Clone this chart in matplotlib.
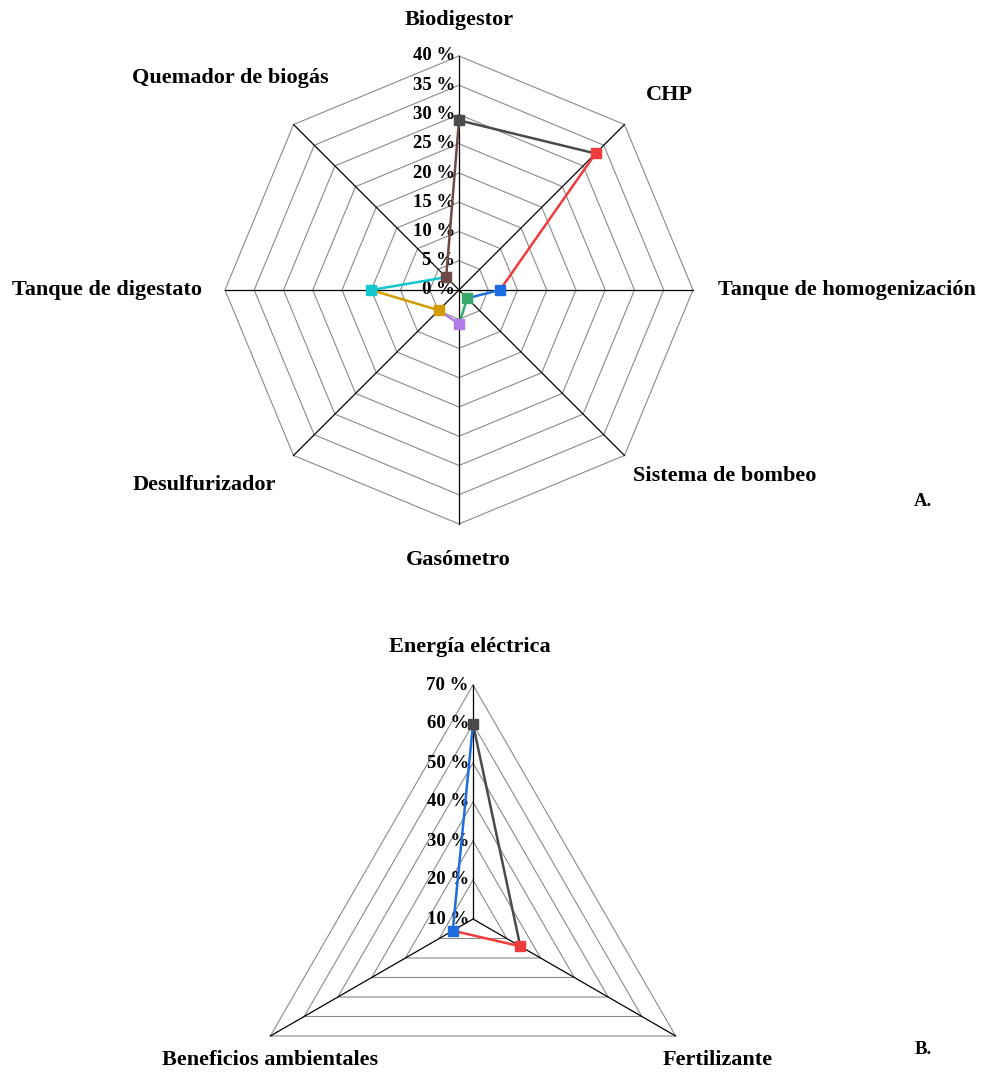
import matplotlib
matplotlib.use("Agg")
import matplotlib.pyplot as plt
import numpy as np

plt.rcParams["font.family"] = ["Liberation Serif", "DejaVu Serif"]
plt.rcParams["font.weight"] = "bold"

# --- data ---
equipos = ["Biodigestor", "CHP", "Tanque de homogenización", "Sistema de bombeo",
           "Gasómetro", "Desulfurizador", "Tanque de digestato", "Quemador de biogás"]
equipos_pct = [29, 33, 7, 2, 5.8, 4.9, 15, 3.1]
equipos_colors = ["#4a4a4a", "#f03c3c", "#1c6ee0", "#39a96b",
                  "#b27be6", "#d39b00", "#12c6cf", "#6f4848"]
equipos_ticks = [0, 5, 10, 15, 20, 25, 30, 35, 40]

productos = ["Energía eléctrica", "Fertilizante", "Beneficios ambientales"]
productos_pct = [60, 24, 16]
productos_colors = ["#4a4a4a", "#f03c3c", "#1c6ee0"]
productos_ticks = [10, 20, 30, 40, 50, 60, 70]  # axis starts at 10 % in the centre

W, H = 984, 1072
fig = plt.figure(figsize=(W / 100, H / 100), dpi=100)


def make_polar(cx, cy, rad):
    # pixel centre / radius -> figure fraction box
    ax = fig.add_axes([(cx - rad) / W, (H - cy - rad) / H, 2 * rad / W, 2 * rad / H],
                      projection="polar")
    ax.set_theta_zero_location("N")
    ax.set_theta_direction(-1)
    ax.grid(False)
    ax.set_xticks([])
    ax.set_yticks([])
    ax.spines["polar"].set_visible(False)
    ax.patch.set_visible(False)
    return ax


def radar(ax, values, colors, ticks):
    n = len(values)
    theta = np.linspace(0, 2 * np.pi, n, endpoint=False)
    ax.set_ylim(ticks[0], ticks[-1])
    tt = np.append(theta, theta[0])
    # polygon grid
    for t in ticks[1:]:
        ax.plot(tt, [t] * (n + 1), color="#8a8a8a", lw=0.8, zorder=1, clip_on=False)
    # spokes
    for th in theta:
        ax.plot([th, th], [ticks[0], ticks[-1]], color="black", lw=0.9, zorder=2,
                clip_on=False)
    # tick labels
    for t in ticks:
        ax.annotate("%d %%" % t, (0, t), xytext=(-3, 0), textcoords="offset points",
                    ha="right", va="center", fontsize=13.5, fontweight="bold", zorder=3)
    # segments coloured by start point
    for i in range(n):
        j = (i + 1) % n
        ax.plot([theta[i], theta[j]], [values[i], values[j]], color=colors[i],
                lw=1.8, zorder=4, clip_on=False)
    for i in range(n):
        ax.plot(theta[i], values[i], marker="s", ms=7, color=colors[i],
                zorder=5, clip_on=False)


ax1 = make_polar(459, 290, 234)
radar(ax1, equipos_pct, equipos_colors, equipos_ticks)

ax2 = make_polar(473, 919, 234)
radar(ax2, productos_pct, productos_colors, productos_ticks)

# category labels (pixel positions as in the reference layout)
lab1 = [(459, 20, "center"), (669, 95, "center"), (718, 290, "left"), (633, 476, "left"),
        (458, 560, "center"), (133, 485, "left"), (202, 290, "right"), (132, 78, "left")]
for (x, y, ha), name in zip(lab1, equipos):
    fig.text(x / W, 1 - y / H, name, ha=ha, va="center", fontsize=16, fontweight="bold")

lab2 = [(470, 647, "center"), (718, 1060, "center"), (270, 1060, "center")]
for (x, y, ha), name in zip(lab2, productos):
    fig.text(x / W, 1 - y / H, name, ha=ha, va="center", fontsize=16, fontweight="bold")

fig.text(923 / W, 1 - 502 / H, "A.", ha="center", va="center", fontsize=13.5, fontweight="bold")
fig.text(923 / W, 1 - 1050 / H, "B.", ha="center", va="center", fontsize=13.5, fontweight="bold")

fig.savefig("out.png", dpi=100)
